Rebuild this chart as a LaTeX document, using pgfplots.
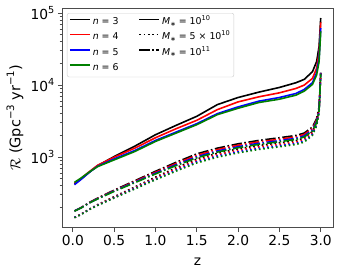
\documentclass[border=0pt]{standalone}
\usepackage{fontspec}
\setmainfont{DejaVu Sans}
\usepackage{pgfplots}
\usepackage{pgfplotstable}
\pgfplotsset{compat=1.18}
\definecolor{mplgreen}{rgb}{0,0.5,0}
\newcommand{\supA}[1]{\raisebox{0.42em}{\fontsize{9.7}{10}\selectfont #1}}
\newcommand{\supC}[1]{\raisebox{0.42em}{\fontsize{10.2}{11}\selectfont #1}}
\newcommand{\supB}[1]{\raisebox{0.42em}{\fontsize{6.6}{7}\selectfont #1}}
\newcommand{\subB}[1]{\raisebox{-0.18em}{\fontsize{6.6}{7}\selectfont #1}}

\pgfplotstableread{
z k r b g
0.02 425 434 416 448
0.1 499 509 493 515
0.2 618 631 618 624
0.3 765 773 749 741
0.5 1021 1000 948 918
0.75 1423 1336 1239 1200
1.0 2050 1862 1709 1655
1.25 2767 2485 2233 2162
1.5 3693 3249 2918 2826
1.75 5370 4575 4025 3897
2.0 6730 5853 4986 4776
2.25 7985 6875 5984 5731
2.5 9275 7816 6730 6379
2.7 10790 8984 7651 7254
2.8 11995 10000 8700 8247
2.9 15350 12390 10790 10220
2.95 21170 17090 14860 13790
2.98 34270 27670 23550 21170
3.0 85170 74130 61800 55470
}\solid

\pgfplotstableread{
z k r b g
0.02 180 180 180 179
0.1 200 200 199 198
0.2 236 234 233 232
0.3 271 269 266 264
0.5 350 344 340 336
0.75 472 461 451 443
1.0 638 619 600 586
1.25 851 819 788 766
1.5 1114 1064 1016 981
1.75 1337 1277 1219 1178
2.0 1535 1466 1400 1352
2.25 1710 1633 1560 1507
2.5 1862 1778 1698 1640
2.7 2004 1914 1828 1766
2.8 2163 2066 1973 1906
2.9 2624 2506 2393 2312
2.95 3428 3274 3126 3020
2.98 4989 4764 4550 4395
3.0 14860 14700 14500 14300
}\dashdot

\pgfplotstableread{
z k r b g
0.02 146 146 146 145
0.1 162 162 161 160
0.2 191 190 189 188
0.3 220 218 215 214
0.5 284 279 275 272
0.75 387 378 370 363
1.0 530 514 498 486
1.25 715 688 662 643
1.5 947 904 864 834
1.75 1136 1085 1036 1001
2.0 1305 1246 1190 1149
2.25 1454 1388 1326 1281
2.5 1583 1511 1443 1394
2.7 1703 1627 1554 1501
2.8 1839 1756 1677 1620
2.9 2283 2180 2082 2011
2.95 3085 2947 2813 2718
2.98 4640 4431 4232 4087
3.0 14560 14400 14210 14010
}\dotted

\begin{document}
\begin{tikzpicture}
\begin{axis}[
  scale only axis, width=270.8pt, height=219.7pt,
  ymode=log,
  xmin=-0.1285, xmax=3.1485, ymin=105.4, ymax=117200,
  xtick={0,0.5,1,1.5,2,2.5,3},
  xticklabels={0.0,0.5,1.0,1.5,2.0,2.5,3.0},
  ytick={1000,10000,100000},
  yticklabels={10\supA{3},10\supA{4},10\supA{5}},
  minor ytick={200,300,400,500,600,700,800,900,2000,3000,4000,5000,6000,7000,8000,9000,20000,30000,40000,50000,60000,70000,80000,90000},
  tick align=outside, xtick pos=bottom, ytick pos=left,
  major tick length=4.3pt, minor tick length=2.5pt,
  every tick/.style={black!70, line width=0.9pt},
  axis line style={black!70, line width=0.9pt},
  ticklabel style={font=\fontsize{13.8}{16}\selectfont},
  xlabel={z},
  xlabel style={font=\fontsize{13.8}{16}\selectfont, at={(axis description cs:0.5,0)}, anchor=base, yshift=-37.3pt},
  ylabel={$\mathcal{R}$ (Gpc\supC{−3} yr\supC{−1})},
  ylabel style={font=\fontsize{14.5}{16}\selectfont, at={(axis description cs:-0.1743,0.5)}, anchor=center},
  legend columns=2,
  legend cell align=left,
  legend image code/.code={\draw[#1] (0pt,3pt) -- (20pt,3pt);},
  legend style={at={(axis description cs:0,1)}, anchor=north west, xshift=4.8pt, yshift=-5pt,
    draw=black!20, rounded corners=2pt, font=\fontsize{9.4}{11}\selectfont,
    inner xsep=2pt, inner ysep=1.5pt,
    nodes={inner ysep=3pt, text height=7pt, text depth=2.2pt},
    /tikz/every even column/.append style={column sep=18pt}},
]
\addlegendimage{draw=black, line width=1.6pt}
\addlegendentry{{\itshape n} = 3}
\addlegendimage{draw=black, line width=1.6pt}
\addlegendentry{{\itshape M}\subB{∗} = 10\supB{10}}
\addlegendimage{draw=red, line width=1.6pt}
\addlegendentry{{\itshape n} = 4}
\addlegendimage{draw=black, line width=1.6pt, dash pattern=on 1.6pt off 2.7pt}
\addlegendentry{{\itshape M}\subB{∗} = 5 × 10\supB{10}}
\addlegendimage{draw=blue, line width=1.6pt}
\addlegendentry{{\itshape n} = 5}
\addlegendimage{draw=black, line width=1.6pt, dash pattern=on 10.3pt off 2.6pt on 1.6pt off 2.6pt}
\addlegendentry{{\itshape M}\subB{∗} = 10\supB{11}}
\addlegendimage{draw=mplgreen, line width=1.6pt}
\addlegendentry{{\itshape n} = 6}

\pgfplotsset{
  sol/.style={line width=1.6pt},
  dts/.style={line width=1.6pt, dash pattern=on 1.6pt off 2.7pt},
  dds/.style={line width=1.6pt, dash pattern=on 10.3pt off 2.6pt on 1.6pt off 2.6pt},
}
\addplot[forget plot, black, sol] table[x=z, y=k] {\solid};
\addplot[forget plot, black, dts] table[x=z, y=k] {\dotted};
\addplot[forget plot, black, dds] table[x=z, y=k] {\dashdot};
\addplot[forget plot, red, sol] table[x=z, y=r] {\solid};
\addplot[forget plot, red, dts] table[x=z, y=r] {\dotted};
\addplot[forget plot, red, dds] table[x=z, y=r] {\dashdot};
\addplot[forget plot, blue, sol] table[x=z, y=b] {\solid};
\addplot[forget plot, blue, dts] table[x=z, y=b] {\dotted};
\addplot[forget plot, blue, dds] table[x=z, y=b] {\dashdot};
\addplot[forget plot, mplgreen, sol] table[x=z, y=g] {\solid};
\addplot[forget plot, mplgreen, dts] table[x=z, y=g] {\dotted};
\addplot[forget plot, mplgreen, dds] table[x=z, y=g] {\dashdot};
\end{axis}
\pgfresetboundingbox
\path[use as bounding box] (-62.2pt,-46.3pt) rectangle (279.8pt,227.7pt);
\end{tikzpicture}
\end{document}
